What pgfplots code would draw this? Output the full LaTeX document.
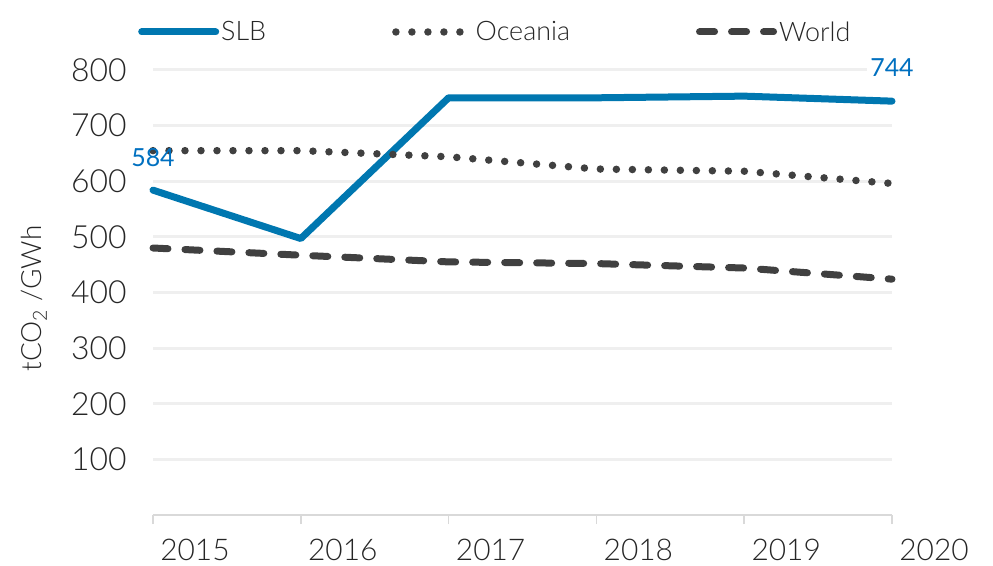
\documentclass[border=0pt]{standalone}
\usepackage{pgfplots}
\pgfplotsset{compat=1.18}
\usepackage{fontspec}
\setmainfont{Lato Light}
\newfontfamily\latoreg{Lato}
\definecolor{slb}{HTML}{0077B0}
\definecolor{dk}{HTML}{404040}
\definecolor{lbl}{HTML}{0070C0}
\definecolor{grd}{HTML}{EFEFEF}
\definecolor{axc}{HTML}{D9D9D9}
\definecolor{txt}{HTML}{262626}
\begin{document}
\begin{tikzpicture}
\useasboundingbox (-153bp,-51bp) rectangle (840bp,515bp);
\begin{axis}[
  at={(0,0)}, anchor=south west, scale only axis,
  width=739bp, height=445bp,
  xmin=2015, xmax=2020, ymin=0, ymax=800,
  clip=false,
  xtick={2015,2016,2017,2018,2019,2020},
  xticklabels={2015,2016,2017,2018,2019,2020},
  ytick={100,200,300,400,500,600,700,800},
  /pgf/number format/assume math mode=true,
  axis x line*=bottom, axis y line*=left,
  y axis line style={draw=none},
  x axis line style={-, draw=axc, line width=1.5bp},
  ytick style={draw=none},
  xtick style={draw=axc, line width=1.5bp},
  tick align=outside, major tick length=9bp,
  ymajorgrids, grid style={draw=grd, line width=3bp},
  yticklabel style={font=\fontsize{32}{32}\selectfont, text=txt, xshift=-14bp},
  xticklabel style={font=\fontsize{30}{30}\selectfont, text=txt, anchor=north, xshift=42bp, yshift=-12bp},
  ylabel={tCO\textsubscript{2} /GWh},
  every axis y label/.style={at={(axis description cs:0,0.5)}, xshift=-119bp, yshift=-6bp, rotate=90, anchor=center, font=\fontsize{28}{28}\selectfont, text=txt},
  legend columns=3,
  legend image code/.code={\draw[#1] (0bp,0bp) -- (74bp,0bp);},
  legend style={at={(axis description cs:0,1)}, anchor=west, xshift=-15bp, yshift=38bp,
    draw=none, fill=none, inner sep=0pt, font=\fontsize{27}{27}\selectfont, text=txt,
    /tikz/every even column/.append style={column sep=124bp}},
]
\addplot[slb, line width=7bp, line cap=round, line join=round] coordinates {
 (2015,584) (2016,497) (2017,750) (2018,750) (2019,753) (2020,744)};
\addlegendentry{SLB}
\addplot[dk, line width=7.5bp, line cap=round, dash pattern=on 0bp off 16bp] coordinates {
 (2015,655) (2016,655) (2017,644) (2018,622) (2019,618) (2020,596)};
\addlegendentry{Oceania}
\addplot[dk, line width=7bp, line cap=round, dash pattern=on 15bp off 17bp] coordinates {
 (2015,480) (2016,467) (2017,455) (2018,452) (2019,444) (2020,424)};
\addlegendentry{World}
\node[font=\latoreg\fontsize{25}{25}\selectfont, text=lbl, inner sep=2bp] at (axis cs:2015,584) [yshift=33bp] {584};
\node[font=\latoreg\fontsize{25}{25}\selectfont, text=lbl, fill=white, inner sep=3bp] at (axis cs:2020,744) [yshift=34bp] {744};
\end{axis}
\end{tikzpicture}
\end{document}
